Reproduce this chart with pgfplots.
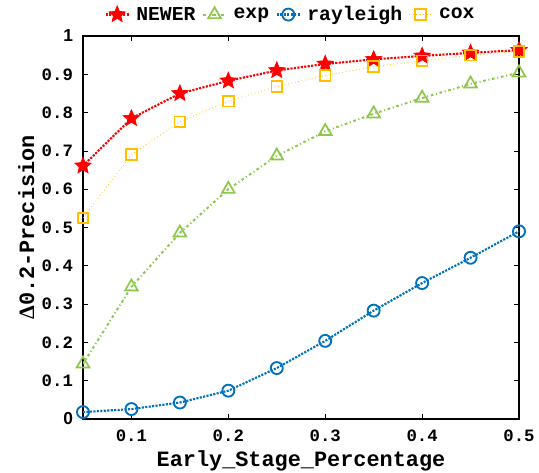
\documentclass[border=0pt]{standalone}
\usepackage{fontspec}
\setmainfont{Liberation Mono}
\newfontfamily\sansf{Liberation Sans}
\newfontfamily\greekf{Liberation Serif}
\usepackage{pgfplots}
\pgfplotsset{compat=1.18}
\definecolor{cred}{RGB}{255,0,0}
\definecolor{cgreen}{RGB}{140,200,75}
\definecolor{cblue}{RGB}{0,114,189}
\definecolor{corange}{RGB}{255,190,0}
\pgfdeclareplotmark{fstar}{%
  \pgfpathmoveto{\pgfqpointpolar{90}{\pgfplotmarksize}}%
  \pgfpathlineto{\pgfqpointpolar{126}{0.45\pgfplotmarksize}}%
  \pgfpathlineto{\pgfqpointpolar{162}{\pgfplotmarksize}}%
  \pgfpathlineto{\pgfqpointpolar{198}{0.45\pgfplotmarksize}}%
  \pgfpathlineto{\pgfqpointpolar{234}{\pgfplotmarksize}}%
  \pgfpathlineto{\pgfqpointpolar{270}{0.45\pgfplotmarksize}}%
  \pgfpathlineto{\pgfqpointpolar{306}{\pgfplotmarksize}}%
  \pgfpathlineto{\pgfqpointpolar{342}{0.45\pgfplotmarksize}}%
  \pgfpathlineto{\pgfqpointpolar{18}{\pgfplotmarksize}}%
  \pgfpathlineto{\pgfqpointpolar{54}{0.45\pgfplotmarksize}}%
  \pgfpathclose
  \pgfusepathqfillstroke}
\begin{document}
\begin{tikzpicture}
\begin{axis}[
  name=ax,
  scale only axis,
  width=327pt, height=287.25pt,
  xmin=0.05, xmax=0.5, ymin=0, ymax=1,
  xtick={0.1,0.2,0.3,0.4,0.5},
  ytick={0,0.1,0.2,0.3,0.4,0.5,0.6,0.7,0.8,0.9,1},
  yticklabels={{\sansf 0},0.1,0.2,0.3,0.4,0.5,0.6,0.7,0.8,0.9,{\sansf 1}},
  xticklabels={0.1,0.2,0.3,0.4,0.5},
  tick align=inside,
  tick pos=both,
  major tick length=4pt,
  axis line style={line width=1.1pt},
  tick style={line width=0.6pt, black},
  ticklabel style={font=\fontsize{13}{15}\selectfont\bfseries},
  yticklabel style={xshift=-4pt},
  xticklabel style={yshift=-5pt},
  xlabel={Early\_Stage\_Percentage},
  ylabel={{\greekf\char"0394}0.2-Precision},
  label style={font=\fontsize{16.4}{18}\selectfont\bfseries},
  xlabel style={at={(axis description cs:0.5,-0.11)}, anchor=center},
  ylabel style={at={(axis description cs:-0.130,0.5)}, anchor=center},
  legend columns=4,
  legend style={at={(axis description cs:0.477,1.056)}, anchor=center, draw=none, fill=none,
    font=\fontsize{14.8}{17}\selectfont\bfseries, column sep=3pt, inner sep=1pt},
  legend image code/.code={%
    \draw[mark repeat=2,mark phase=2] plot coordinates {(0cm,0cm) (0.3cm,0cm) (0.6cm,0cm)};},
]
\addplot[color=cred, densely dotted, line width=1.6pt, mark=fstar, mark size=6.5pt,
  mark options={solid, fill=cred, line width=0.5pt}]
  coordinates {(0.05,0.661)(0.1,0.785)(0.15,0.850)(0.2,0.883)(0.25,0.910)(0.3,0.927)(0.35,0.939)(0.4,0.948)(0.45,0.956)(0.5,0.963)};
\addlegendentry{NEWER}
\addplot[color=cgreen, dash pattern=on 2pt off 2pt on 0.8pt off 2pt, line width=1.5pt, mark=triangle, mark size=5.5pt,
  mark options={solid, line width=1.3pt}]
  coordinates {(0.05,0.144)(0.1,0.345)(0.15,0.486)(0.2,0.600)(0.25,0.687)(0.3,0.751)(0.35,0.797)(0.4,0.838)(0.45,0.875)(0.5,0.904)};
\addlegendentry{exp}
\addplot[color=cblue, densely dotted, line width=1.6pt, mark=o, mark size=4.5pt,
  mark options={solid, line width=1.4pt}]
  coordinates {(0.05,0.018)(0.1,0.026)(0.15,0.043)(0.2,0.074)(0.25,0.133)(0.3,0.204)(0.35,0.283)(0.4,0.355)(0.45,0.421)(0.5,0.490)};
\addlegendentry{rayleigh}
\addplot[color=corange, dotted, line width=0.6pt, mark=square, mark size=4pt,
  mark options={solid, line width=1.4pt}]
  coordinates {(0.05,0.525)(0.1,0.690)(0.15,0.776)(0.2,0.830)(0.25,0.868)(0.3,0.897)(0.35,0.920)(0.4,0.935)(0.45,0.950)(0.5,0.960)};
\addlegendentry{cox}
\end{axis}
\pgfresetboundingbox
\path ([xshift=-62.25pt,yshift=-39.75pt]ax.south west) rectangle ([xshift=15pt,yshift=27pt]ax.north east);
\end{tikzpicture}
\end{document}
